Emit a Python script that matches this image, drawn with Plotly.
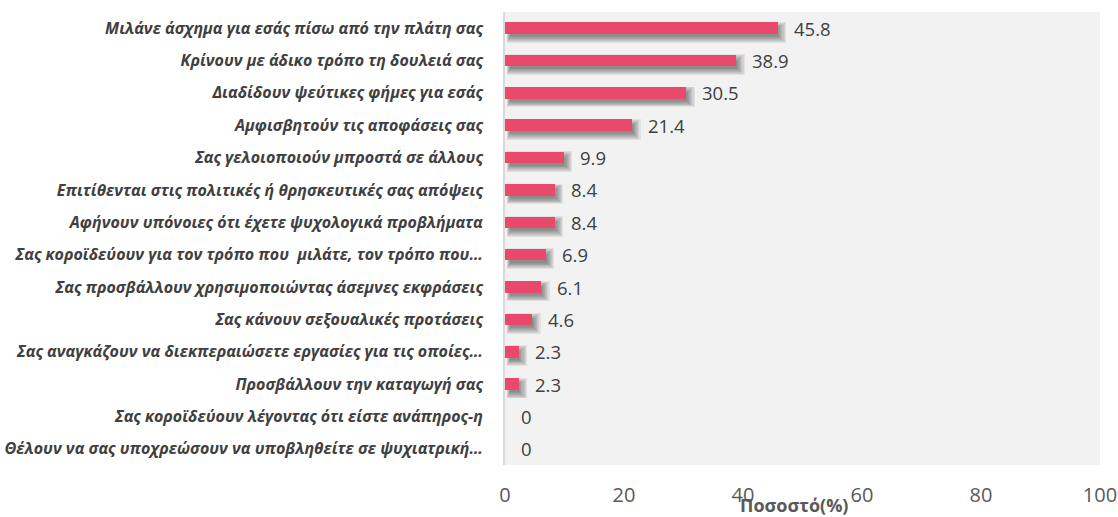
import plotly.graph_objects as go

# Survey items (top to bottom) and the share of respondents (%)
categories = [
    "Μιλάνε άσχημα για εσάς πίσω από την πλάτη σας",
    "Κρίνουν με άδικο τρόπο τη δουλειά σας",
    "Διαδίδουν ψεύτικες φήμες για εσάς",
    "Αμφισβητούν τις αποφάσεις σας",
    "Σας γελοιοποιούν μπροστά σε άλλους",
    "Επιτίθενται στις πολιτικές ή θρησκευτικές σας απόψεις",
    "Αφήνουν υπόνοιες ότι έχετε ψυχολογικά προβλήματα",
    "Σας κοροϊδεύουν για τον τρόπο που  μιλάτε, τον τρόπο που…",
    "Σας προσβάλλουν χρησιμοποιώντας άσεμνες εκφράσεις",
    "Σας κάνουν σεξουαλικές προτάσεις",
    "Σας αναγκάζουν να διεκπεραιώσετε εργασίες για τις οποίες…",
    "Προσβάλλουν την καταγωγή σας",
    "Σας κοροϊδεύουν λέγοντας ότι είστε ανάπηρος-η",
    "Θέλουν να σας υποχρεώσουν να υποβληθείτε σε ψυχιατρική…",
]
values = [45.8, 38.9, 30.5, 21.4, 9.9, 8.4, 8.4, 6.9, 6.1, 4.6, 2.3, 2.3, 0, 0]
x_ticks = [0, 20, 40, 60, 80, 100]
axis_title = "Ποσοστό(%)"

positions = list(range(len(categories)))

BAR_COLOR = "#E9496A"
TEXT_GREY = "#404040"
AXIS_GREY = "#595959"

ROW_PX = 452 / len(categories)   # pixel height of one category row
X_PX = 595 / 100                 # pixels per percentage point
BAR_W = 11.6 / ROW_PX

fig = go.Figure()

# soft drop shadow: stacked translucent layers, shifted right/down
for k in range(8):
    thick = (8.0 + 1.8 * k) / ROW_PX
    shift = 4.0 / ROW_PX
    ext = (0.5 + 1.1 * k) / X_PX
    start = (5.0 - 0.5 * k) / X_PX
    xs = [max(v + ext - start, 0) if v > 0 else 0 for v in values]
    fig.add_trace(go.Bar(
        y=[p + shift for p in positions],
        x=xs,
        base=start,
        orientation="h",
        width=thick,
        marker=dict(color="rgba(50,50,50,0.085)", line=dict(width=0)),
        hoverinfo="skip",
        showlegend=False,
    ))

# main bars
fig.add_trace(go.Bar(
    y=positions,
    x=values,
    orientation="h",
    width=BAR_W,
    marker=dict(color=BAR_COLOR, line=dict(width=0)),
    showlegend=False,
))

# value labels next to each bar
for p, v in zip(positions, values):
    fig.add_annotation(
        x=v, y=p, xref="x", yref="y",
        text=f"{v:g}", showarrow=False,
        xanchor="left", yanchor="middle", xshift=14,
        font=dict(family="Open Sans", size=18.5, color=TEXT_GREY),
    )

# axis title
fig.add_annotation(
    x=0.486, y=-0.088, xref="paper", yref="paper",
    text=f"<b>{axis_title}</b>", showarrow=False,
    xanchor="center", yanchor="middle",
    font=dict(family="Open Sans", size=18, color=AXIS_GREY),
)

fig.update_layout(
    width=1118, height=517,
    margin=dict(l=505, r=18, t=12, b=52),
    paper_bgcolor="white",
    plot_bgcolor="#F2F2F2",
    barmode="overlay",
    bargap=0,
    xaxis=dict(
        range=[0, 100],
        tickvals=x_ticks,
        showgrid=False, zeroline=False, showline=False,
        tickfont=dict(family="Open Sans", size=20, color=AXIS_GREY),
        ticks="", ticklabelstandoff=16,
        automargin=False,
        fixedrange=True,
    ),
    yaxis=dict(
        range=[len(categories) - 0.5, -0.5],
        tickvals=positions,
        ticktext=categories,
        showgrid=False, zeroline=False,
        showline=True, linecolor="#D9D9D9", linewidth=2,
        tickfont=dict(family="Open Sans", size=16, color=TEXT_GREY,
                      weight="bold", style="italic"),
        ticks="", ticklabelstandoff=17,
        automargin=False,
        fixedrange=True,
    ),
)

fig.write_html("out.html")
